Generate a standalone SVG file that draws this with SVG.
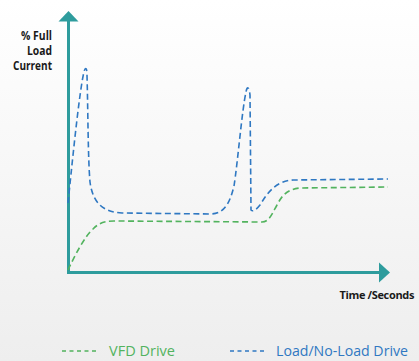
<svg xmlns="http://www.w3.org/2000/svg" width="419" height="361" viewBox="0 0 419 361">
<defs>
<linearGradient id="bg" x1="0" y1="0" x2="0" y2="1">
<stop offset="0" stop-color="#ffffff"/>
<stop offset="1" stop-color="#eeeeee"/>
</linearGradient>
<style>
.axis{stroke:#2e9c9d;stroke-width:3;fill:none}
.head{fill:#2e9c9d}
.blue{stroke:#2f78c2;stroke-width:1.6;fill:none;stroke-dasharray:6 3.5}
.green{stroke:#52b35e;stroke-width:1.6;fill:none;stroke-dasharray:6 3.5}
.lblue{stroke:#2f78c2;stroke-width:1.6;stroke-dasharray:4 3.5}
.lgreen{stroke:#52b35e;stroke-width:1.6;stroke-dasharray:4 3.5}
.lab{font-family:"Open Sans","Liberation Sans",sans-serif;font-weight:bold;font-size:11.5px;fill:#1a1a1a}
.leg{font-family:"Open Sans","Liberation Sans",sans-serif;font-size:15px}
</style>
</defs>
<rect x="0" y="0" width="419" height="361" fill="url(#bg)"/>
<g id="axes">
<path class="axis" d="M68.5,20 V272.5 H380"/>
<polygon class="head" points="68.5,11 58.5,21.5 78.5,21.5"/>
<polygon class="head" points="390,272.5 379,262.5 379,282.5"/>
</g>
<g id="y-label" class="lab" text-anchor="end">
<text x="52" y="40" textLength="31" lengthAdjust="spacingAndGlyphs">% Full</text>
<text x="52" y="55" textLength="25" lengthAdjust="spacingAndGlyphs">Load</text>
<text x="52" y="70" textLength="39" lengthAdjust="spacingAndGlyphs">Current</text>
</g>
<g id="x-label" class="lab">
<text x="414" y="299" text-anchor="end" font-size="11" letter-spacing="-0.35">Time /Seconds</text>
</g>
<g id="connectors">
<path id="load-curve" class="blue" d="M68,203 C71,175 79,92 84,72 C85,67 87,67 87,75 C88,110 88,160 90,182 C93,205 105,212 122,213 L210,214 C222,214 229,207 234,186 C238,160 242,110 246,92 C247,86 249,86 250,95 L251,210 C253,212 256,210 260,205 C268,192 276,181 293,180 L388,179"/>
<path id="vfd-curve" class="green" d="M68,270 C75,255 85,236 93,229 C99,223 104,221 114,221 L262,222 C269,222 272,214 277,205 C282,195 288,189 300,188 L388,187"/>
</g>
<g id="legend-vfd">
<line class="lgreen" x1="62" y1="351" x2="96" y2="351"/>
<text class="leg" x="109" y="356" fill="#52b35e" textLength="66" lengthAdjust="spacingAndGlyphs">VFD Drive</text>
</g>
<g id="legend-load">
<line class="lblue" x1="230" y1="351" x2="264" y2="351"/>
<text class="leg" x="276" y="356" fill="#2f78c2" textLength="132" lengthAdjust="spacingAndGlyphs">Load/No-Load Drive</text>
</g>
</svg>
